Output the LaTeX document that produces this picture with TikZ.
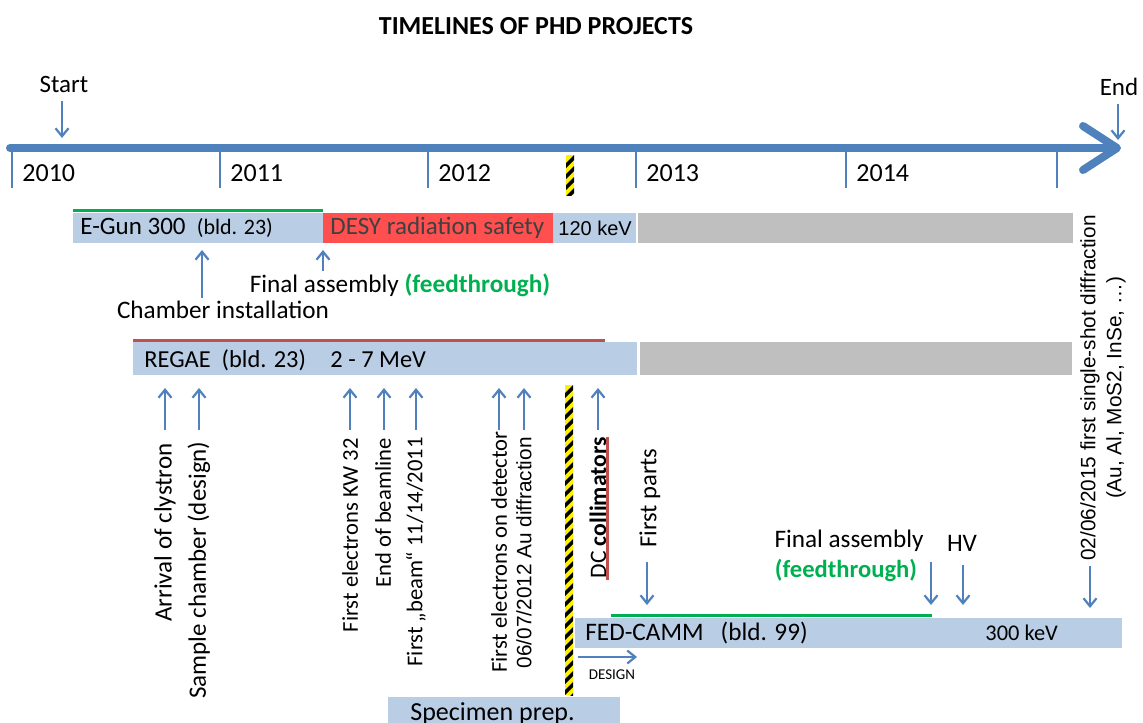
\documentclass[tikz,border=0pt]{standalone}
\usepackage{fontspec}
\setmainfont{Carlito}
\newfontfamily\arialfont{Liberation Sans}
\usetikzlibrary{arrows.meta}

\definecolor{tlblue}{HTML}{4F81BD}
\definecolor{barblue}{HTML}{B9CDE5}
\definecolor{barred}{HTML}{FF4F4F}
\definecolor{bargrey}{HTML}{BFBFBF}
\definecolor{tlgreen}{HTML}{00B050}
\definecolor{linered}{HTML}{C0504D}
\definecolor{warnyellow}{HTML}{FFF200}

\tikzset{
  axis/.style={tlblue, line width=4pt, line cap=round,
    -{Straight Barb[length=17pt,width=22pt,line cap=round,line join=round]}},
  yeartick/.style={tlblue, line width=0.6pt},
  event/.style={tlblue, line width=1.1pt, -{Straight Barb[length=4pt,width=6.5pt]}},
  year/.style={font=\fontsize{13}{15}\selectfont, anchor=west, inner sep=0pt},
  bartext/.style={font=\fontsize{12.5}{14}\selectfont, anchor=west, inner sep=0pt},
  evtext/.style={font=\fontsize{12.6}{14}\selectfont, inner sep=0pt},
  vtext/.style={font=\fontsize{11.3}{13}\selectfont, rotate=90, anchor=east, inner sep=0pt},
  vtextA/.style={font=\arialfont\fontsize{10.4}{12.5}\selectfont, rotate=90, anchor=east, inner sep=0pt},
}

% yellow/black warning strip: x, top, bottom
\newcommand{\warnstrip}[3]{%
  \begin{scope}
    \clip (#1-4,#2) rectangle (#1+4,#3);
    \fill[warnyellow] (#1-4,#2) rectangle (#1+4,#3);
    \foreach \s in {0,11,...,330}
      \fill[black] (#1-4,#2+\s+8) -- (#1+4,#2+\s) -- (#1+4,#2+\s+5) -- (#1-4,#2+\s+13) -- cycle;
  \end{scope}}

\begin{document}
\begin{tikzpicture}[x=0.5pt,y=-0.5pt]
\useasboundingbox (0,0) rectangle (1143,722);
\clip (0,0) rectangle (1143,722);

\node[font=\bfseries\fontsize{13}{15}\selectfont] (title) at (536,26) {TIMELINES OF PHD PROJECTS};

% time axis
\coordinate (t0) at (10,148);
\coordinate (t1) at (1121,148);
\draw[axis] (t0) -- (t1);
\foreach \x/\yr [count=\i] in {12/2010,220/2011,428/2012,636/2013,846/2014} {
  \draw[yeartick] (\x,150) -- (\x,188);
  \node[year] (y\i) at (\x+10,173) {\yr};
}
\draw[yeartick] (1057,150) -- (1057,188);
\warnstrip{570}{155}{195}

\node[evtext, font=\fontsize{12.5}{14}\selectfont] (start) at (64,84) {Start};
\node[evtext, font=\fontsize{12.5}{14}\selectfont] (end) at (1119,87) {End};
\coordinate (s0) at (62,101);  \coordinate (s1) at (62,138);
\coordinate (e0) at (1118,104); \coordinate (e1) at (1118,140);
\draw[event] (s0) -- (s1);
\draw[event] (e0) -- (e1);

% E-Gun 300
\fill[barblue] (73,213) rectangle (323,243);
\fill[barred] (323,213) rectangle (553,243);
\fill[barblue] (553,213) rectangle (636,243);
\fill[bargrey] (638,213) rectangle (1073,243);
\draw[tlgreen, line width=1.5pt] (73,210) -- (323,210);
\node[bartext] (egun) at (80,228) {E-Gun 300\ \ {\fontsize{11}{12}\selectfont(bld. 23)}};
\node[bartext, text=black!75] (desy) at (330,228) {DESY radiation safety};
\node[bartext, font=\arialfont\fontsize{10}{12}\selectfont] (kev120) at (558,228) {120 keV};

\node[evtext] (chamber) at (223,310) {Chamber installation};
\node[evtext] (final1) at (400,285) {Final assembly {\bfseries\color{tlgreen}(feedthrough)}};
\coordinate (c0) at (202,298); \coordinate (c1) at (202,250);
\coordinate (f0) at (323,271); \coordinate (f1) at (323,250);
\draw[event] (c0) -- (c1);
\draw[event] (f0) -- (f1);

% REGAE
\fill[barblue] (133,342) rectangle (637,375);
\fill[bargrey] (640,342) rectangle (1072,375);
\draw[linered, line width=1.5pt] (133,340) -- (605,340);
\node[bartext, font=\fontsize{12.2}{14}\selectfont] (regae) at (144,360) {REGAE\ \ (bld. 23)};
\node[bartext, font=\fontsize{12.2}{14}\selectfont] (mev) at (330,360) {2 - 7 MeV};

\foreach \x [count=\i] in {165,199,350,384,416,499,524,598} {
  \coordinate (u\i) at (\x,430);
  \coordinate (ut\i) at (\x,388);
  \draw[event] (u\i) -- (ut\i);
}
\node[vtext, font=\fontsize{12.5}{14}\selectfont] (clystron) at (165,443) {Arrival of clystron};
\node[vtext, font=\fontsize{12.5}{14}\selectfont] (sample) at (199,441) {Sample chamber (design)};
\node[vtext] (kw32) at (350,438) {First electrons\ KW 32};
\node[vtext] (beamline) at (383,438) {End of beamline};
\node[vtext] (beam) at (416,437) {First „beam“\ 11/14/2011};
\node[vtext] (detector) at (499,431) {First electrons on detector};
\node[vtextA] (audiff) at (524,437) {06/07/2012 Au diffraction};
\node[vtext, font=\fontsize{11.8}{14}\selectfont] (dc) at (598,437) {DC \textbf{collimators}};
\coordinate (dc1) at (607,437);
\coordinate (dc2) at (607,580);
\draw[linered, line width=1.5pt] (dc1) -- (dc2);

\warnstrip{569}{385}{695}

% FED-CAMM
\fill[barblue] (575,618) rectangle (1122,648);
\draw[tlgreen, line width=1.5pt] (611,615) -- (932,615);
\node[bartext, font=\fontsize{12.6}{14}\selectfont] (fedcamm) at (585,633) {FED-CAMM\ \ \ (bld. 99)};
\node[bartext, font=\fontsize{11.2}{13}\selectfont] (kev300) at (985,633) {300 keV};
\node[vtext, font=\fontsize{12.3}{14}\selectfont] (parts) at (650,448) {First parts};
\node[evtext] (final2) at (849,541) {Final assembly};
\node[evtext, font=\bfseries\fontsize{12.3}{14}\selectfont, text=tlgreen] (feed) at (846,570) {(feedthrough)};
\node[evtext] (hv) at (962,543) {HV};
\node[rotate=90, align=center, inner sep=0pt, font=\arialfont\fontsize{10.4}{13}\selectfont] (single)
  at (1103,388) {02/06/2015 first single-shot diffraction\\(Au, Al, MoS2, InSe, …)};
\foreach \x/\a/\b [count=\i] in {647/562/605,931/562/605,963/565/605,1090/566/608} {
  \coordinate (d\i) at (\x,\a);
  \coordinate (dt\i) at (\x,\b);
  \draw[event] (d\i) -- (dt\i);
}
\coordinate (ds0) at (578,657); \coordinate (ds1) at (637,657);
\draw[event] (ds0) -- (ds1);
\node[font=\fontsize{7.5}{9}\selectfont, inner sep=0pt] (design) at (612,675) {DESIGN};

% specimen preparation
\fill[barblue] (388,697) rectangle (620,735);
\node[bartext, font=\fontsize{13}{15}\selectfont] (specimen) at (410,714) {Specimen prep.};
\end{tikzpicture}
\end{document}
